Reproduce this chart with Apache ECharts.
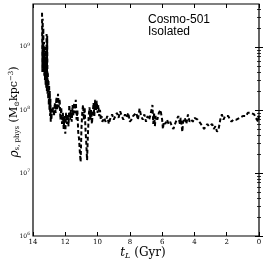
<!DOCTYPE html>
<html><head><meta charset="utf-8">
<script src="https://cdn.jsdelivr.net/npm/echarts@6/dist/echarts.min.js"></script>
<style>html,body{margin:0;padding:0;background:#fff}#c{width:265px;height:262px}</style>
</head><body><div id="c"></div>
<script>
const times = [13.44,13.42,13.40,13.38,13.36,13.34,13.32,13.30,13.28,13.26,13.24,13.22,13.20,13.18,13.16,13.14,13.12,13.10,13.08,13.06,13.04,13.02,13.00,12.98,12.96,12.94,12.92,12.90,12.88,12.86,12.83,12.80,12.75,12.70,12.65,12.60,12.55,12.50,12.45,12.40,12.35,12.30,12.25,12.20,12.15,12.10,12.05,12.00,11.95,11.90,11.85,11.80,11.75,11.70,11.65,11.60,11.55,11.50,11.45,11.40,11.35,11.30,11.25,11.20,11.15,11.10,11.05,11.00,10.95,10.90,10.85,10.80,10.75,10.70,10.65,10.60,10.55,10.50,10.45,10.40,10.35,10.30,10.25,10.20,10.15,10.10,10.05,10.00,9.95,9.90,9.85,9.80,9.75,9.70,9.60,9.50,9.40,9.30,9.20,9.10,9.00,8.90,8.80,8.70,8.60,8.50,8.40,8.30,8.20,8.10,8.00,7.90,7.80,7.70,7.60,7.50,7.40,7.30,7.20,7.10,7.00,6.90,6.80,6.70,6.60,6.55,6.50,6.45,6.40,6.30,6.20,6.10,6.00,5.95,5.90,5.80,5.70,5.60,5.50,5.40,5.30,5.20,5.10,5.00,4.90,4.85,4.80,4.75,4.70,4.60,4.50,4.40,4.30,4.20,4.10,4.00,3.90,3.80,3.70,3.60,3.50,3.40,3.30,3.20,3.10,3.00,2.90,2.80,2.70,2.60,2.50,2.40,2.30,2.20,2.10,2.00,1.90,1.80,1.70,1.60,1.50,1.40,1.30,1.20,1.10,1.00,0.90,0.80,0.70,0.60,0.50,0.40,0.30,0.20,0.10,0.05,0.00];
const density = [3.5e9,4e8,2.8e9,6e8,2e9,4e8,1.2e9,3.5e8,8e8,3e8,1.0e9,2.5e8,6e8,2.2e8,1.6e9,2e8,1.5e9,1.8e8,4e8,1.5e8,3e8,1.2e8,2.5e8,1.0e8,2e8,8e7,1.5e8,6.5e7,1.1e8,7e7,1.0e8,9e7,1.1e8,8e7,1.3e8,9e7,1.6e8,1.0e8,1.8e8,1.1e8,1.5e8,7e7,1.1e8,6e7,9e7,5e7,8e7,4.2e7,9e7,6e7,8.5e7,5.5e7,1.2e8,7e7,1.0e8,6.5e7,1.2e8,8e7,1.3e8,9e7,1.45e8,7e7,1.0e8,4.5e7,3.5e7,2.2e7,1.5e7,5e7,9e7,1.2e8,7e7,1.1e8,5e7,3e7,1.6e7,4e7,8e7,1.1e8,7e7,1.0e8,6e7,9e7,1.3e8,8e7,1.45e8,1.0e8,1.4e8,9e7,1.2e8,8e7,1.0e8,7e7,8e7,6.5e7,7.5e7,6.5e7,8e7,6e7,7.5e7,8.5e7,7e7,8e7,9e7,7.5e7,9.5e7,8e7,7e7,8.5e7,7.5e7,9e7,6.5e7,7e7,8e7,7.5e7,9e7,7e7,1.05e8,8e7,7e7,8.5e7,6.5e7,8e7,7e7,9e7,1.2e8,6e7,9e7,5.5e7,8e7,7e7,9e7,1.0e8,7e7,5e7,6.5e7,6e7,7e7,6e7,6.5e7,5.5e7,5e7,6e7,7e7,8e7,6e7,7.5e7,6e7,4.5e7,6.5e7,7.5e7,6e7,8.5e7,6.5e7,7e7,6.5e7,7.5e7,8e7,7e7,6.5e7,6e7,5.5e7,5e7,5.5e7,6e7,5.5e7,5.5e7,6e7,5e7,5.5e7,4.5e7,5e7,7e7,8.5e7,7e7,8e7,7.5e7,8e7,7e7,6.5e7,7e7,7.5e7,7e7,7.5e7,7.5e7,8e7,8e7,8.5e7,8e7,9e7,8.5e7,9e7,9.5e7,8.5e7,7.5e7,8e7,6.5e7,9e7];
const xTicks = [0,2,4,6,8,10,12,14];
const yMajor = [1e6,1e7,1e8,1e9];
const yMinor = [];
[1e6,1e7,1e8,1e9].forEach(d=>{for(let k=2;k<=9;k++){if(d*k<=4.8e9) yMinor.push(d*k);}});
const labelText = ["Cosmo-501","Isolated"];

const data = times.map((t,i)=>[t,density[i]]);
const serif = "'DejaVu Serif', 'Liberation Serif', serif";
const chart = echarts.init(document.getElementById('c'));
const yBase = {type:'log', logBase:10, min:1e6, max:4.8e9, splitLine:{show:false}, axisLine:{show:false}};
chart.setOption({
  animation:false,
  grid:{left:33,right:6,top:4,bottom:26,show:true,borderColor:'#000',borderWidth:1.2,outerBoundsMode:'none',containLabel:false},
  xAxis:[{
    type:'value',min:0,max:14,interval:2,inverse:true,position:'bottom',
    axisLine:{show:false},splitLine:{show:false},
    axisTick:{inside:true,length:4,lineStyle:{color:'#000',width:1}},
    axisLabel:{fontSize:7,color:'#000',fontFamily:serif,margin:3},
    name:'{i|t}{sub|L} (Gyr)',nameLocation:'middle',nameGap:10,nameMoveOverlap:false,
    nameTextStyle:{fontSize:12,color:'#000',fontFamily:serif,padding:[0,6,0,0],rich:{
      i:{fontSize:12,fontStyle:'italic',fontFamily:serif,color:'#000'},
      sub:{fontSize:8,fontStyle:'italic',fontFamily:serif,color:'#000',verticalAlign:'bottom',padding:[6,0,0,0]}}}
  },{
    type:'value',min:0,max:14,interval:2,inverse:true,position:'top',
    axisLine:{show:false},splitLine:{show:false},
    axisTick:{inside:true,length:4,lineStyle:{color:'#000',width:1}},
    axisLabel:{show:false}
  }],
  yAxis:[
    Object.assign({},yBase,{position:'left',
      axisTick:{inside:true,length:4,customValues:yMajor,lineStyle:{color:'#000',width:1}},
      axisLabel:{customValues:yMajor,margin:3,color:'#000',fontFamily:serif,fontSize:6,
        formatter:v=>'10{s|'+Math.round(Math.log10(v))+'}',
        rich:{s:{fontSize:4.5,fontFamily:serif,color:'#000',verticalAlign:'top',padding:[0,0,4,0]}}},
      name:'{i|ρ}{sub|s, phys} (M{sub|⊙}kpc{sup|−3})',nameLocation:'middle',nameGap:12,nameRotate:90,nameMoveOverlap:false,
      nameTextStyle:{fontSize:11,color:'#000',fontFamily:serif,padding:[0,0,0,16],rich:{
        i:{fontSize:12,fontStyle:'italic',fontFamily:serif,color:'#000'},
        sub:{fontSize:7,fontFamily:serif,color:'#000',padding:[6,0,0,0]},
        sup:{fontSize:7,fontFamily:serif,color:'#000',padding:[0,0,6,0]}}}
    }),
    Object.assign({},yBase,{position:'left',
      axisTick:{inside:true,length:2,customValues:yMinor,lineStyle:{color:'#000',width:0.8}},
      axisLabel:{show:false}}),
    Object.assign({},yBase,{position:'right',
      axisTick:{inside:true,length:4,customValues:yMajor,lineStyle:{color:'#000',width:1}},
      axisLabel:{show:false}}),
    Object.assign({},yBase,{position:'right',
      axisTick:{inside:true,length:2,customValues:yMinor,lineStyle:{color:'#000',width:0.8}},
      axisLabel:{show:false}})
  ],
  graphic:[{type:'text',left:148,top:14,style:{text:labelText.join('\n'),font:"12px 'Liberation Sans', Arial, sans-serif",fill:'#000',lineHeight:11.5}}],
  series:[{type:'line',data:data,xAxisIndex:0,yAxisIndex:0,symbol:'none',
    lineStyle:{color:'#000',width:2,type:[4,2.5]}}]
});
</script></body></html>
